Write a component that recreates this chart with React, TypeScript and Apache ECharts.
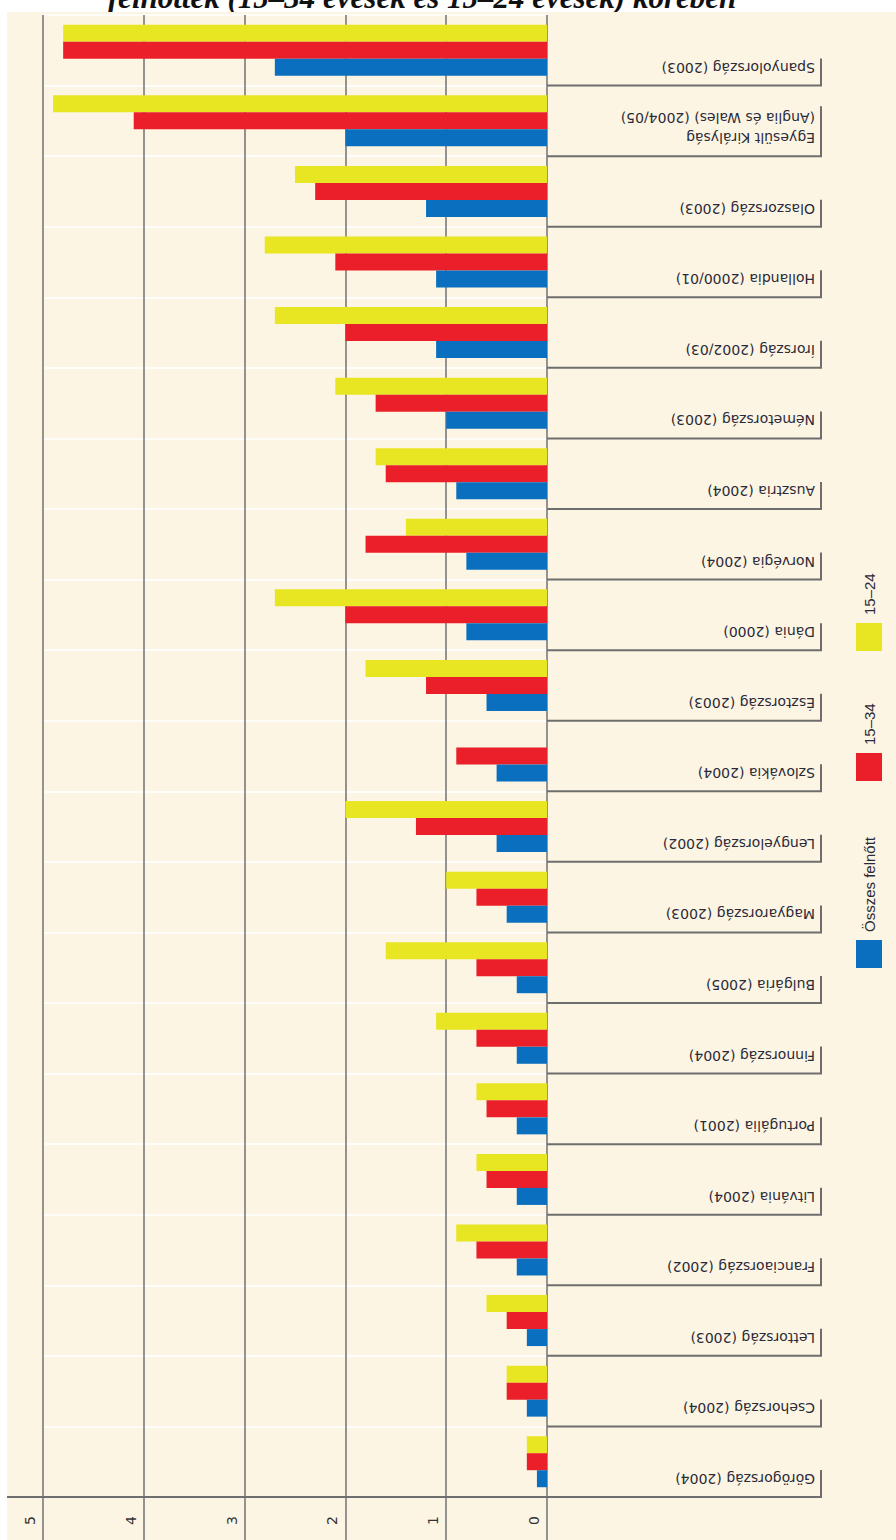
import React, { useEffect, useRef } from "react";
import * as echarts from "echarts";

const titleText = "felnőttek (15–34 évesek és 15–24 évesek) körében";

const categories = [
  "Spanyolország (2003)",
  "Egyesült Királyság\n(Anglia és Wales) (2004/05)",
  "Olaszország (2003)",
  "Hollandia (2000/01)",
  "Írország (2002/03)",
  "Németország (2003)",
  "Ausztria (2004)",
  "Norvégia (2004)",
  "Dánia (2000)",
  "Észtország (2003)",
  "Szlovákia (2004)",
  "Lengyelország (2002)",
  "Magyarország (2003)",
  "Bulgária (2005)",
  "Finnország (2004)",
  "Portugália (2001)",
  "Litvánia (2004)",
  "Franciaország (2002)",
  "Lettország (2003)",
  "Csehország (2004)",
  "Görögország (2004)",
];

const seriesNames = ["Összes felnőtt", "15–34", "15–24"];
const adults = [2.7, 2.0, 1.2, 1.1, 1.1, 1.0, 0.9, 0.8, 0.8, 0.6, 0.5, 0.5, 0.4, 0.3, 0.3, 0.3, 0.3, 0.3, 0.2, 0.2, 0.1];
const age1534 = [4.8, 4.1, 2.3, 2.1, 2.0, 1.7, 1.6, 1.8, 2.0, 1.2, 0.9, 1.3, 0.7, 0.7, 0.7, 0.6, 0.6, 0.7, 0.4, 0.4, 0.2];
const age1524 = [4.8, 4.9, 2.5, 2.8, 2.7, 2.1, 1.7, 1.4, 2.7, 1.8, null, 2.0, 1.0, 1.6, 1.1, 0.7, 0.7, 0.9, 0.6, 0.4, 0.2];

const BLUE = "#0b6fbf";
const RED = "#ea1f29";
const YELLOW = "#e8e522";
const CREAM = "#fdf5e3";
const GRID = "#7a7a7a";
const TEXT = "#2a2a38";

export default function App() {
  const ref = useRef<HTMLDivElement>(null);
  useEffect(() => {
    if (!ref.current) return;
    const chart = echarts.init(ref.current, undefined, { renderer: "svg" });
    chart.setOption({
      animation: false,
      backgroundColor: "#ffffff",
      grid: { left: 43, right: 349, top: 15, bottom: 43, containLabel: false, outerBoundsMode: "none" },
      xAxis: {
        type: "value",
        min: 0,
        max: 5,
        interval: 1,
        inverse: true,
        position: "bottom",
        axisLine: { show: false },
        axisTick: { show: true, length: 43, lineStyle: { color: GRID, width: 1.6 } },
        splitLine: { show: true, lineStyle: { color: GRID, width: 1.6 } },
        axisLabel: {
          rotate: 90,
          margin: 19,
          fontSize: 14,
          color: "#333",
          fontFamily: "DejaVu Sans",
          verticalAlign: "bottom",
          lineHeight: 26,
        },
      },
      yAxis: {
        type: "category",
        data: categories,
        inverse: true,
        position: "right",
        axisLine: { show: false },
        axisTick: { show: false },
        axisLabel: { show: false },
        splitLine: { show: true, lineStyle: { color: "rgba(255,255,255,0.8)", width: 2 } },
      },
      series: [
        { name: seriesNames[2], type: "bar", data: age1524, barWidth: 17, barGap: "0%", itemStyle: { color: YELLOW } },
        { name: seriesNames[1], type: "bar", data: age1534, barWidth: 17, barGap: "0%", itemStyle: { color: RED } },
        { name: seriesNames[0], type: "bar", data: adults, barWidth: 17, barGap: "0%", itemStyle: { color: BLUE } },
      ],
    });

    const x0 = chart.convertToPixel({ xAxisIndex: 0 }, 0) as number;
    const c0 = chart.convertToPixel({ yAxisIndex: 0 }, 0) as number;
    const c1 = chart.convertToPixel({ yAxisIndex: 0 }, 1) as number;
    const step = c1 - c0;
    const elements: any[] = [
      { type: "rect", z: -10, silent: true, shape: { x: 7, y: 12, width: 889, height: 1528 }, style: { fill: CREAM } },
      {
        type: "text",
        z: -11,
        x: 422,
        y: -3,
        style: {
          text: titleText,
          font: "italic bold 31px 'Liberation Serif', 'DejaVu Serif', serif",
          fill: "#111",
          align: "center",
          verticalAlign: "middle",
        },
      },
    ];
    categories.forEach((cat, i) => {
      const cy = chart.convertToPixel({ yAxisIndex: 0 }, i) as number;
      const b = cy + step / 2;
      const lines = cat.split("\n").length;
      const isLast = i === categories.length - 1;
      elements.push({
        type: "line",
        z: 5,
        shape: { x1: isLast ? 7 : x0, y1: b, x2: 822, y2: b },
        style: { stroke: "#6e6e6e", lineWidth: 2 },
      });
      elements.push({
        type: "line",
        z: 5,
        shape: { x1: 821, y1: b - (lines > 1 ? 50 : 27), x2: 821, y2: b },
        style: { stroke: "#6e6e6e", lineWidth: 2 },
      });
      elements.push({
        type: "text",
        z: 5,
        x: 815,
        y: b - 8,
        rotation: Math.PI,
        style: {
          text: cat,
          fontSize: 14,
          fontFamily: "DejaVu Sans",
          fill: TEXT,
          align: "left",
          verticalAlign: "top",
          lineHeight: 20,
        },
      });
    });
    const legendItems = [
      { name: seriesNames[0], color: BLUE, top: 940 },
      { name: seriesNames[1], color: RED, top: 753 },
      { name: seriesNames[2], color: YELLOW, top: 623 },
    ];
    legendItems.forEach((it) => {
      elements.push({ type: "rect", z: 5, shape: { x: 856, y: it.top, width: 26, height: 28 }, style: { fill: it.color } });
      elements.push({
        type: "text",
        z: 5,
        x: 869,
        y: it.top - 8,
        rotation: Math.PI / 2,
        style: {
          text: it.name,
          fontSize: 15,
          fontFamily: "Liberation Sans",
          fill: TEXT,
          align: "left",
          verticalAlign: "middle",
        },
      });
    });
    chart.setOption({ graphic: { elements } });
    return () => chart.dispose();
  }, []);
  return <div ref={ref} style={{ position: "absolute", left: 0, top: 0, width: 896, height: 1540 }} />;
}
